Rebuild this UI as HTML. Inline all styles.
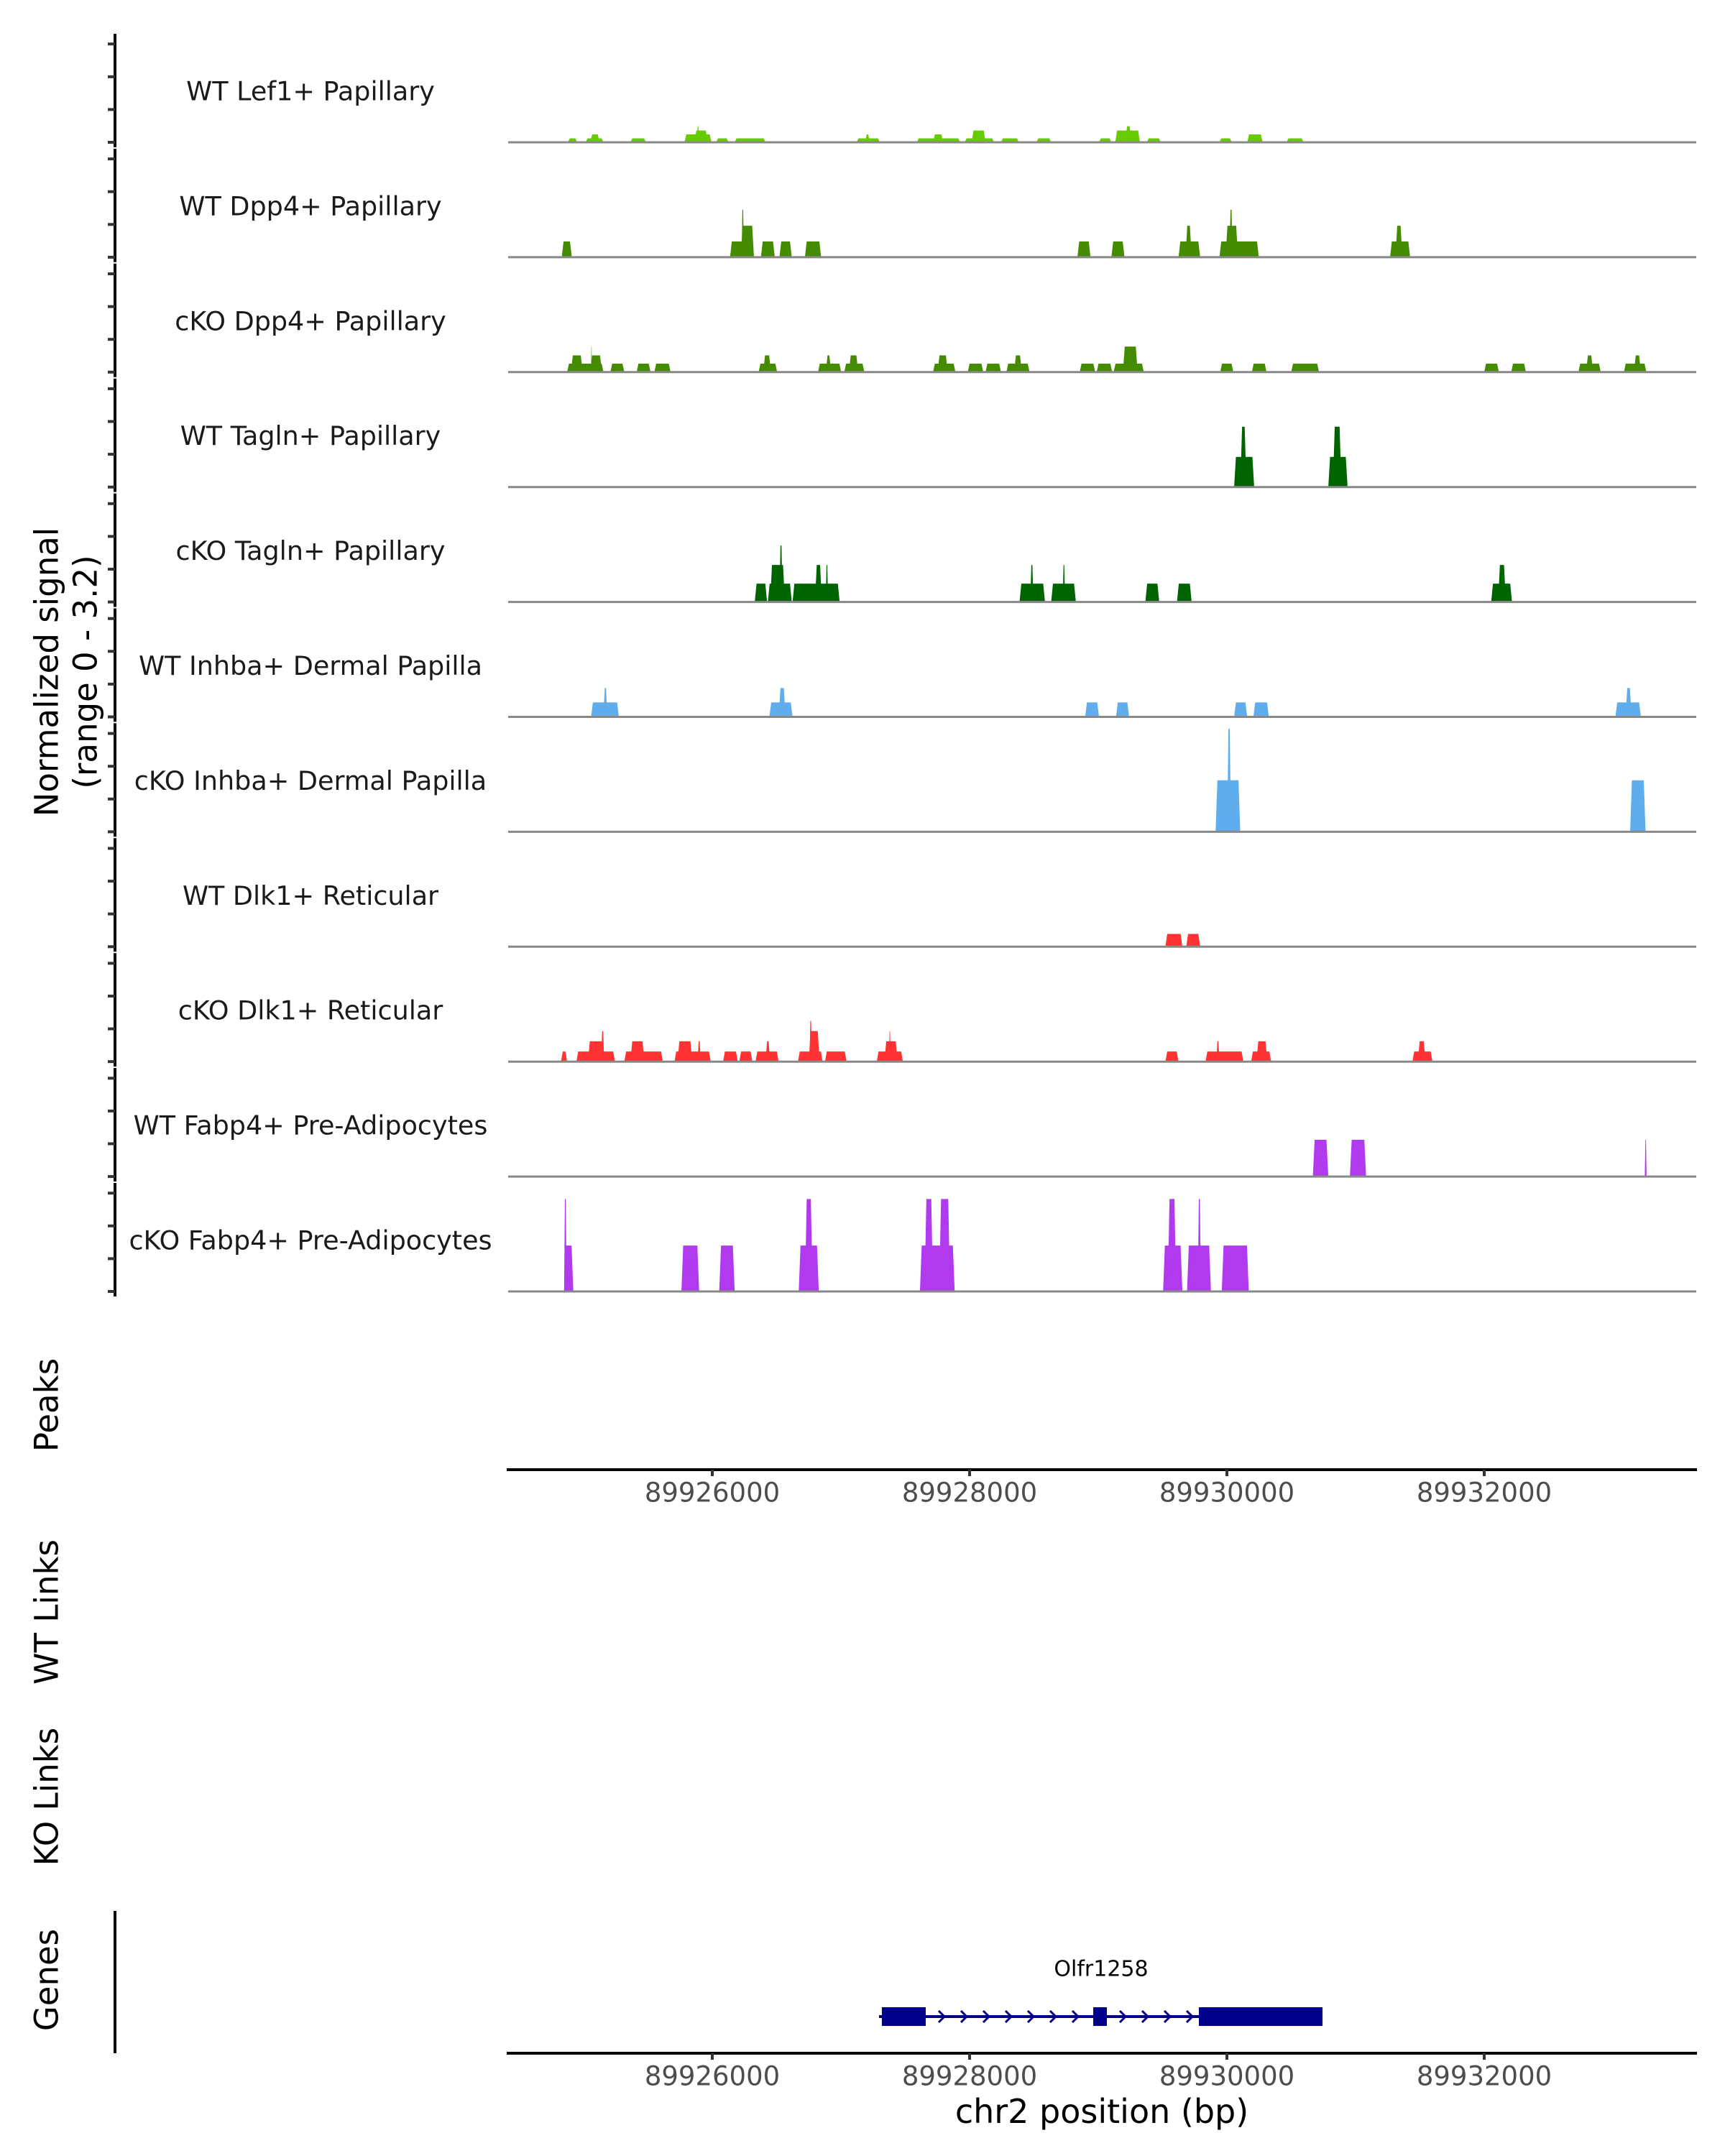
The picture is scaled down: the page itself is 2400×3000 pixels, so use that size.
<!DOCTYPE html>
<html><head><meta charset="utf-8"><title>Coverage plot</title>
<style>
html,body{margin:0;padding:0;background:#fff;}
svg{display:block;font-family:"DejaVu Sans","Liberation Sans",sans-serif;}
</style></head>
<body>
<svg id="chart" xmlns="http://www.w3.org/2000/svg" width="2400" height="3000" viewBox="0 0 2400 3000"></svg>
<script>
// ---- data ----
const trackNames = ["WT Lef1+ Papillary","WT Dpp4+ Papillary","cKO Dpp4+ Papillary","WT Tagln+ Papillary","cKO Tagln+ Papillary","WT Inhba+ Dermal Papilla","cKO Inhba+ Dermal Papilla","WT Dlk1+ Reticular","cKO Dlk1+ Reticular","WT Fabp4+ Pre-Adipocytes","cKO Fabp4+ Pre-Adipocytes"];
const trackColors = ["#66CC00","#458B00","#458B00","#006400","#006400","#5FADEC","#5FADEC","#FF3333","#FF3333","#B23AEE","#B23AEE"];
const xTicks = [89926000, 89928000, 89930000, 89932000];
const yTicks = [0, 1, 2, 3];
const yMax = 3.2;
// signal blocks per track: [start bp, end bp, normalized signal]
const sigLef1WT = [[89924878,89924950,0.12],[89925016,89925154,0.12],[89925052,89925124,0.24],[89925364,89925484,0.12],[89925784,89925994,0.24],[89925862,89925964,0.36],[89925880,89925898,0.49],[89926030,89926126,0.12],[89926174,89926414,0.12],[89927122,89927302,0.12],[89927188,89927224,0.24],[89927590,89927926,0.12],[89927716,89927794,0.24],[89927962,89928190,0.12],[89928016,89928124,0.36],[89928244,89928382,0.12],[89928520,89928634,0.12],[89929006,89929102,0.12],[89929132,89929324,0.36],[89929210,89929258,0.49],[89929378,89929486,0.12],[89929942,89930038,0.12],[89930158,89930278,0.24],[89930464,89930596,0.12]];
const sigDpp4WT = [[89924830,89924908,0.48],[89926138,89926324,0.48],[89926222,89926324,0.96],[89926228,89926246,1.45],[89926378,89926486,0.48],[89926522,89926618,0.48],[89926720,89926846,0.48],[89928838,89928940,0.48],[89929102,89929204,0.48],[89929624,89929792,0.48],[89929678,89929726,0.96],[89929942,89930248,0.48],[89929990,89930086,0.96],[89930020,89930044,1.45],[89931268,89931424,0.48],[89931310,89931364,0.96]];
const sigDpp4KO = [[89924872,89925154,0.26],[89924902,89924992,0.51],[89925052,89925142,0.51],[89925058,89925064,0.78],[89925208,89925316,0.26],[89925412,89925520,0.26],[89925550,89925676,0.26],[89926360,89926504,0.26],[89926396,89926456,0.51],[89926822,89927002,0.26],[89926882,89926924,0.51],[89927026,89927182,0.26],[89927062,89927134,0.51],[89927716,89927890,0.26],[89927752,89927830,0.51],[89927986,89928106,0.26],[89928124,89928244,0.26],[89928286,89928466,0.26],[89928346,89928406,0.51],[89928856,89928976,0.26],[89928988,89929108,0.26],[89929120,89929354,0.26],[89929192,89929306,0.78],[89929948,89930050,0.26],[89930194,89930308,0.26],[89930500,89930716,0.26],[89932000,89932114,0.26],[89932210,89932324,0.26],[89932732,89932906,0.26],[89932792,89932846,0.51],[89933086,89933260,0.26],[89933164,89933218,0.51]];
const sigTaglnWT = [[89930056,89930212,0.92],[89930104,89930152,1.84],[89930788,89930938,0.92],[89930824,89930890,1.84]];
const sigTaglnKO = [[89926330,89926426,0.56],[89926432,89926618,0.56],[89926450,89926564,1.13],[89926522,89926546,1.72],[89926624,89926990,0.56],[89926798,89926852,1.13],[89926882,89926900,1.13],[89928388,89928586,0.56],[89928472,89928496,1.13],[89928634,89928826,0.56],[89928724,89928742,1.13],[89929366,89929474,0.56],[89929612,89929726,0.56],[89932054,89932216,0.56],[89932108,89932168,1.13]];
const sigInhbaWT = [[89925058,89925274,0.44],[89925154,89925184,0.88],[89926444,89926624,0.44],[89926516,89926570,0.88],[89928898,89929006,0.44],[89929138,89929240,0.44],[89930056,89930158,0.44],[89930206,89930326,0.44],[89933020,89933218,0.44],[89933098,89933146,0.88]];
const sigInhbaKO = [[89929912,89930104,1.57],[89930002,89930032,3.14],[89933134,89933254,1.57]];
const sigDlk1WT = [[89929522,89929654,0.39],[89929684,89929792,0.39]];
const sigDlk1KO = [[89924824,89924872,0.31],[89924944,89925244,0.31],[89925034,89925154,0.62],[89925136,89925160,0.93],[89925316,89925616,0.31],[89925364,89925472,0.62],[89925706,89925988,0.31],[89925730,89925844,0.62],[89925886,89925910,0.62],[89926084,89926198,0.31],[89926210,89926312,0.31],[89926336,89926516,0.31],[89926414,89926450,0.62],[89926666,89926858,0.31],[89926750,89926834,0.93],[89926756,89926774,1.24],[89926876,89927044,0.31],[89927278,89927482,0.31],[89927338,89927440,0.62],[89927374,89927386,0.93],[89929522,89929624,0.31],[89929834,89930128,0.31],[89929918,89929942,0.62],[89930188,89930344,0.31],[89930230,89930314,0.62],[89931442,89931598,0.31],[89931484,89931544,0.62]];
const sigFabp4WT = [[89930668,89930788,1.12],[89930956,89931082,1.12],[89933248,89933262,1.12]];
const sigFabp4KO = [[89924848,89924920,1.40],[89924848,89924868,2.82],[89925760,89925898,1.40],[89926054,89926174,1.40],[89926672,89926828,1.40],[89926720,89926780,2.82],[89927614,89927884,1.40],[89927650,89927716,2.82],[89927764,89927848,2.82],[89929504,89929654,1.40],[89929540,89929606,2.82],[89929690,89929876,1.40],[89929774,89929798,2.82],[89929960,89930170,1.40]];
const trackSignals = [sigLef1WT,sigDpp4WT,sigDpp4KO,sigTaglnWT,sigTaglnKO,sigInhbaWT,sigInhbaKO,sigDlk1WT,sigDlk1KO,sigFabp4WT,sigFabp4KO];
const geneName = "Olfr1258";
const geneStart = 89927296, geneEnd = 89930743;
const exonStarts = [89927318, 89928961, 89929782];
const exonEnds = [89927659, 89929067, 89930743];

// ---- scales ----
const NS = "http://www.w3.org/2000/svg";
const svg = document.getElementById('chart');
const X0 = 991, PXPERBP = 358/2000;
function xs(bp){ return X0 + (bp - 89926000) * PXPERBP; }
const TOP = 46, TH = 159.9, BASEOFF = 152, UNIT = 45.6;
function baseY(i){ return TOP + i*TH + BASEOFF; }
function ys(i, v){ return baseY(i) - v*UNIT; }
function mk(tag, attrs, parent){ const e=document.createElementNS(NS,tag); for(const k in attrs) e.setAttribute(k, attrs[k]); (parent||svg).appendChild(e); return e; }

// y axis
const yAxis = mk('g', {});


for (let i=0;i<trackNames.length;i++){
  mk('line',{x1:160,x2:160,y1:TOP+i*TH+1,y2:TOP+(i+1)*TH-1,stroke:'#000','stroke-width':4},yAxis);
  yTicks.forEach(t=>{ const y=ys(i,t); mk('line',{x1:150,x2:160,y1:y,y2:y,stroke:'#333','stroke-width':4},yAxis); });
}
const yt = mk('text',{transform:'translate(65,935) rotate(-90)','text-anchor':'middle','dominant-baseline':'central','font-size':45,fill:'#000'});


yt.textContent = 'Normalized signal';
const yt2 = mk('text',{transform:'translate(119,935) rotate(-90)','text-anchor':'middle','dominant-baseline':'central','font-size':45,fill:'#000'});


yt2.textContent = '(range 0 - 3.2)';

// tracks
trackNames.forEach((name,i)=>{
  const g = mk('g',{});
  
  
  const lbl = mk('text',{x:432,y:baseY(i)-71,'text-anchor':'middle','dominant-baseline':'central','font-size':36.5,fill:'#1a1a1a'},g);
  
  
  lbl.textContent = name;
  trackSignals[i].forEach(b=>{
    const x1=xs(b[0]), x2=xs(b[1]); const w=x2-x1; const tp=Math.min(2.5,w/3);
    const yb=baseY(i), yv=ys(i,Math.min(b[2],yMax));
    const p = mk('polygon',{points:`${x1},${yb} ${x1+tp},${yv} ${x2-tp},${yv} ${x2},${yb}`,fill:trackColors[i]},g);
    
    
  });
  const bl = mk('line',{x1:707,x2:2360,y1:baseY(i),y2:baseY(i),stroke:'#888','stroke-width':3},g);
  
  
});

// x axes
function xAxis(y, name){
  const g = mk('g',{});
  
  
  mk('line',{x1:705,x2:2361,y1:y,y2:y,stroke:'#000','stroke-width':4},g);
  xTicks.forEach(t=>{
    mk('line',{x1:xs(t),x2:xs(t),y1:y,y2:y+9,stroke:'#333','stroke-width':4},g);
    const tl = mk('text',{x:xs(t),y:y+32,'text-anchor':'middle','dominant-baseline':'central','font-size':37,fill:'#4d4d4d'},g);
    
    
    tl.textContent = t;
  });
}
xAxis(2045, 'peaks-x-axis');
xAxis(2857, 'genes-x-axis');
const xt = mk('text',{x:1533,y:2938,'text-anchor':'middle','dominant-baseline':'central','font-size':46,fill:'#000'});


xt.textContent = 'chr2 position (bp)';

// side panel labels
[['Peaks',1955,'peaks-label'],['WT Links',2243,'wt-links-label'],['KO Links',2500,'ko-links-label'],['Genes',2755,'genes-label']].forEach(a=>{
  const t = mk('text',{transform:`translate(65,${a[1]}) rotate(-90)`,'text-anchor':'middle','dominant-baseline':'central','font-size':45,fill:'#000'});
  
  
  t.textContent = a[0];
});
const ga = mk('line',{x1:160,x2:160,y1:2659,y2:2857,stroke:'#000','stroke-width':4});



// gene model
const gg = mk('g',{});


const GY = 2806;
mk('line',{x1:xs(geneStart),x2:xs(geneEnd),y1:GY,y2:GY,stroke:'#00008B','stroke-width':4},gg);
for (let k=0;k<exonStarts.length;k++){
  const a = k===0 ? xs(geneStart)-6 : xs(exonEnds[k-1]);
  const b = xs(exonStarts[k]);
  for (let x=a+22; x<b-6; x+=31){
    mk('polyline',{points:`${x-4},${GY-8} ${x+4},${GY} ${x-4},${GY+8}`,fill:'none',stroke:'#00008B','stroke-width':3},gg);
  }
}
exonStarts.forEach((s,k)=>{
  const r = mk('rect',{x:xs(s),y:GY-13,width:xs(exonEnds[k])-xs(s),height:26,fill:'#00008B'},gg);
  
  
});
const gl = mk('text',{x:1532,y:2740,'text-anchor':'middle','dominant-baseline':'central','font-size':30,fill:'#000'},gg);


gl.textContent = geneName;
</script>
</body></html>
